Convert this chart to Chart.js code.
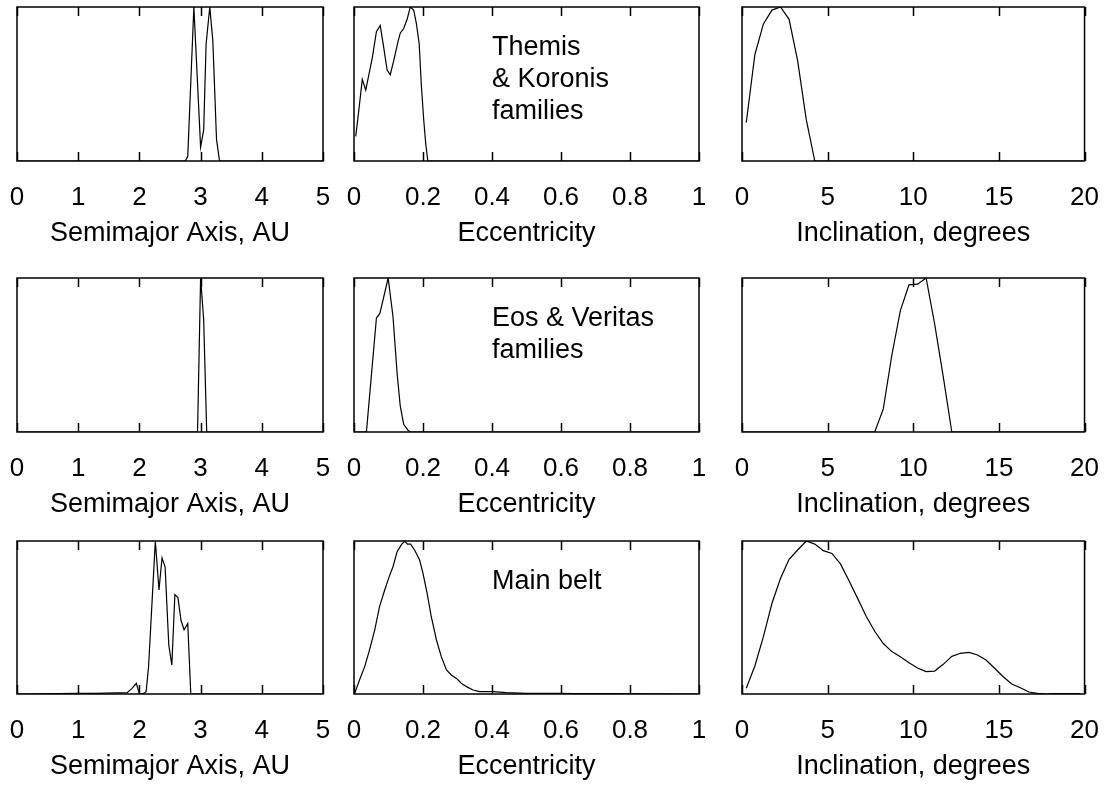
<!DOCTYPE html>
<html>
<head>
<meta charset="utf-8">
<title>Asteroid orbital element distributions</title>
<script src="https://cdn.jsdelivr.net/npm/chart.js@4.4.1/dist/chart.umd.min.js"></script>
<style>
    html, body { margin: 0; padding: 0; background: #fff; }
    body { width: 1111px; height: 789px; position: relative; overflow: hidden; }
    .painel { position: absolute; }
</style>
</head>
<body>
<script>
// Tick labels
const semimajorTicks = ['0', '1', '2', '3', '4', '5'];
const eccTicks = ['0', '0.2', '0.4', '0.6', '0.8', '1'];
const inclTicks = ['0', '5', '10', '15', '20'];

// Themis & Koronis families (normalised to peak = 1)
const tkSemiX = [0, 2.75, 2.79, 2.89, 3.0, 3.05, 3.09, 3.15, 3.2, 3.26, 3.31, 5];
const tkSemiY = [0, 0, 0.03, 1.0, 0.09, 0.2, 0.76, 1.0, 0.78, 0.14, 0, 0];
const tkEccX = [0.005, 0.015, 0.024, 0.034, 0.044, 0.053, 0.065, 0.076, 0.086, 0.096, 0.105, 0.115, 0.127, 0.134, 0.144, 0.154, 0.163, 0.173, 0.181, 0.189, 0.195, 0.202, 0.208, 0.214, 1];
const tkEccY = [0.16, 0.35, 0.53, 0.46, 0.57, 0.67, 0.84, 0.88, 0.74, 0.59, 0.56, 0.65, 0.77, 0.83, 0.86, 0.92, 1.0, 0.98, 0.89, 0.76, 0.5, 0.27, 0.11, 0, 0];
const tkIncX = [0.25, 0.75, 1.25, 1.75, 2.25, 2.75, 3.25, 3.75, 4.25, 20];
const tkIncY = [0.25, 0.69, 0.89, 0.98, 1.0, 0.92, 0.65, 0.27, 0, 0];

// Eos & Veritas families
const evSemiX = [0, 2.95, 3.0, 3.05, 3.1, 5];
const evSemiY = [0, 0, 1.0, 0.73, 0, 0];
const evEccX = [0, 0.036, 0.065, 0.075, 0.099, 0.113, 0.125, 0.134, 0.144, 0.157, 0.165, 1];
const evEccY = [0, 0, 0.74, 0.77, 1.0, 0.75, 0.38, 0.17, 0.05, 0.01, 0, 0];
const evIncX = [0, 7.75, 8.25, 8.75, 9.25, 9.75, 10.25, 10.75, 11.25, 11.75, 12.25, 20];
const evIncY = [0, 0, 0.15, 0.5, 0.79, 0.955, 0.96, 1.0, 0.7, 0.36, 0, 0];

// Main belt
const mbSemiX = [0, 1.0, 1.25, 1.47, 1.8, 1.88, 1.95, 2.0, 2.07, 2.11, 2.15, 2.22, 2.26, 2.32, 2.37, 2.42, 2.48, 2.53, 2.58, 2.63, 2.68, 2.73, 2.79, 2.84, 5];
const mbSemiY = [0, 0.004, 0.004, 0.006, 0.009, 0.037, 0.07, 0, 0.004, 0.015, 0.18, 0.7, 1.0, 0.68, 0.89, 0.83, 0.32, 0.19, 0.65, 0.63, 0.48, 0.42, 0.46, 0, 0];
const mbEccX = [0.002, 0.016, 0.031, 0.045, 0.06, 0.074, 0.089, 0.102, 0.113, 0.125, 0.137, 0.147, 0.155, 0.164, 0.176, 0.19, 0.2, 0.212, 0.224, 0.239, 0.253, 0.268, 0.282, 0.297, 0.311, 0.326, 0.345, 0.365, 0.403, 0.442, 0.5, 0.597, 0.635, 0.732, 1];
const mbEccY = [0.004, 0.092, 0.179, 0.288, 0.418, 0.571, 0.68, 0.767, 0.832, 0.93, 0.974, 1.0, 0.98, 0.98, 0.94, 0.877, 0.789, 0.658, 0.505, 0.353, 0.244, 0.157, 0.124, 0.102, 0.07, 0.048, 0.026, 0.015, 0.015, 0.009, 0.004, 0.004, 0.002, 0.002, 0];
const mbIncX = [0.25, 0.75, 1.25, 1.75, 2.25, 2.75, 3.25, 3.75, 4.25, 4.75, 5.25, 5.75, 6.25, 6.75, 7.25, 7.75, 8.25, 8.75, 9.25, 9.75,
                10.25, 10.75, 11.25, 11.75, 12.25, 12.75, 13.25, 13.75, 14.25, 14.75, 15.25, 15.75, 16.25, 16.75, 17.25, 17.75, 18.25, 18.75, 19.25, 19.75];
const mbIncY = [0.037, 0.183, 0.375, 0.593, 0.756, 0.88, 0.941, 1.0, 0.98, 0.937, 0.919, 0.85, 0.74, 0.625, 0.508, 0.41, 0.33, 0.277, 0.244, 0.205,
                0.17, 0.146, 0.15, 0.194, 0.246, 0.266, 0.272, 0.255, 0.222, 0.168, 0.113, 0.065, 0.041, 0.013, 0.004, 0, 0.002, 0.002, 0.002, 0.002];

Chart.defaults.font.family = "'Liberation Sans', Arial, Helvetica, sans-serif";
Chart.defaults.color = '#000';

// Moldura do painel, marcas internas e texto de anotação
const molduraPlugin = {
    id: 'moldura',
    afterDatasetsDraw(chart, args, opts) {
        const { ctx, chartArea: a } = chart;
        const x = chart.scales.x;
        ctx.save();
        ctx.strokeStyle = '#000';
        ctx.lineWidth = 1.5;
        ctx.strokeRect(a.left, a.top, a.right - a.left, a.bottom - a.top);
        ctx.beginPath();
        x.ticks.forEach(t => {
            const px = Math.round(x.getPixelForValue(t.value)) + 0.5;
            ctx.moveTo(px, a.bottom);
            ctx.lineTo(px, a.bottom - 9);
            ctx.moveTo(px, a.top);
            ctx.lineTo(px, a.top + 9);
        });
        ctx.stroke();
        if (opts.nota) {
            ctx.fillStyle = '#000';
            ctx.font = "27px 'Liberation Sans', Arial, sans-serif";
            ctx.textAlign = 'left';
            ctx.textBaseline = 'alphabetic';
            const nx = x.getPixelForValue(opts.notaX);
            opts.nota.forEach((linha, i) => {
                ctx.fillText(linha, nx, a.top + 48 + i * 32);
            });
        }
        ctx.restore();
    }
};

const colunas = [
    { left: 17, width: 306 },
    { left: 354, width: 345 },
    { left: 742, width: 345 }
];
const linhas = [
    { top: 7, height: 154 },
    { top: 278, height: 154 },
    { top: 541, height: 153 }
];
const PAD_T = 7, PAD_LR = 25, AXIS_H = 95;

const criarPainel = (lin, col, xs, ys, eixo, nota) => {
    const c = colunas[col], r = linhas[lin];
    const div = document.createElement('div');
    div.className = 'painel';
    const w = c.width + 2 * PAD_LR;
    const h = PAD_T + r.height + AXIS_H;
    div.style.left = (c.left - PAD_LR) + 'px';
    div.style.top = (r.top - PAD_T) + 'px';
    div.style.width = w + 'px';
    div.style.height = h + 'px';
    const canvas = document.createElement('canvas');
    canvas.width = w;
    canvas.height = h;
    div.appendChild(canvas);
    document.body.appendChild(div);

    new Chart(canvas, {
        type: 'line',
        data: {
            datasets: [{
                data: xs.map((v, i) => ({ x: v, y: ys[i] })),
                borderColor: '#000',
                borderWidth: 1.2,
                pointRadius: 0,
                tension: 0,
                fill: false
            }]
        },
        options: {
            responsive: false,
            animation: false,
            events: [],
            layout: { padding: { left: PAD_LR, right: PAD_LR, top: PAD_T, bottom: 0 } },
            plugins: {
                legend: { display: false },
                tooltip: { enabled: false },
                moldura: { nota: nota, notaX: 0.4 }
            },
            scales: {
                x: {
                    type: 'linear',
                    min: eixo.min,
                    max: eixo.max,
                    grid: { display: false },
                    border: { display: false },
                    ticks: {
                        stepSize: eixo.step,
                        autoSkip: false,
                        maxRotation: 0,
                        padding: 13,
                        font: { size: 26 },
                        callback: (v, i) => eixo.labels[i]
                    },
                    title: {
                        display: true,
                        text: eixo.titulo,
                        font: { size: 27 },
                        padding: { top: 0, bottom: 6 }
                    },
                    afterFit: s => { s.height = AXIS_H; }
                },
                y: { display: false, min: 0, max: 1 }
            }
        },
        plugins: [molduraPlugin]
    });
};

const eixoSemi = { min: 0, max: 5, step: 1, labels: semimajorTicks, titulo: 'Semimajor Axis, AU' };
const eixoEcc = { min: 0, max: 1, step: 0.2, labels: eccTicks, titulo: 'Eccentricity' };
const eixoInc = { min: 0, max: 20, step: 5, labels: inclTicks, titulo: 'Inclination, degrees' };

criarPainel(0, 0, tkSemiX, tkSemiY, eixoSemi);
criarPainel(0, 1, tkEccX, tkEccY, eixoEcc, ['Themis', '& Koronis', 'families']);
criarPainel(0, 2, tkIncX, tkIncY, eixoInc);
criarPainel(1, 0, evSemiX, evSemiY, eixoSemi);
criarPainel(1, 1, evEccX, evEccY, eixoEcc, ['Eos & Veritas', 'families']);
criarPainel(1, 2, evIncX, evIncY, eixoInc);
criarPainel(2, 0, mbSemiX, mbSemiY, eixoSemi);
criarPainel(2, 1, mbEccX, mbEccY, eixoEcc, ['Main belt']);
criarPainel(2, 2, mbIncX, mbIncY, eixoInc);
</script>
</body>
</html>
